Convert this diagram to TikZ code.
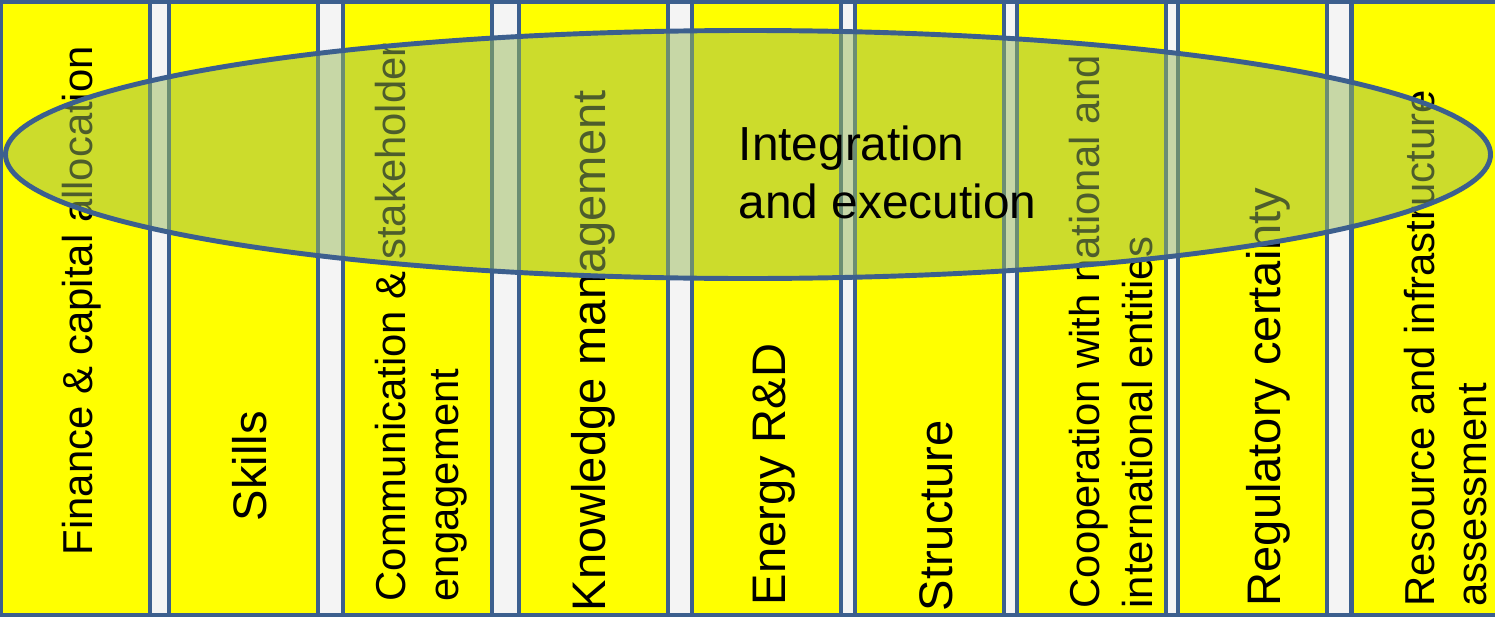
\documentclass[tikz,border=0pt]{standalone}
\usepackage{fontspec}
\setmainfont{Liberation Sans}
\usetikzlibrary{positioning, shapes.geometric}
\definecolor{pillarblue}{HTML}{3C5F8E}
\definecolor{pillaryellow}{RGB}{255,255,0}
\definecolor{olivefill}{HTML}{9BBB59}
\definecolor{gapgray}{HTML}{F4F4F4}

\begin{document}
\begin{tikzpicture}[
  pillar/.style={draw=pillarblue, line width=1.3pt, fill=pillaryellow, minimum width=1.49cm,
                 minimum height=6.13cm, inner sep=0pt, outer sep=0pt},
  lbl/.style={rotate=90, anchor=base west, inner sep=0pt, align=left},
  big/.style={lbl, font=\fontsize{13.4pt}{16pt}\selectfont},
  small/.style={lbl, font=\fontsize{11.9pt}{14.8pt}\selectfont},
  hub/.style={ellipse, draw=pillarblue, line width=1.4pt, fill=olivefill, fill opacity=0.5,
              draw opacity=1, minimum width=14.85cm, minimum height=2.48cm, inner sep=0pt},
  node distance=0.2cm
]
\useasboundingbox (0,0) rectangle (14.95,6.17);
% frame and the light strips between the pillars
\draw[pillarblue, line width=1.3pt, fill=gapgray] (0.02,0.02) rectangle (15.3,6.15);

% the nine pillars
\node[pillar] (c1) at (0.755,3.085) {};
\node[pillar, right=0.19cm of c1] (c2) {};
\node[pillar, right=0.25cm of c2] (c3) {};
\node[pillar, right=0.27cm of c3] (c4) {};
\node[pillar, right=0.24cm of c4] (c5) {};
\node[pillar, right=0.14cm of c5] (c6) {};
\node[pillar, right=0.13cm of c6] (c7) {};
\node[pillar, right=0.12cm of c7] (c8) {};
\node[pillar, right=0.19cm of c8, minimum width=1.60cm, xshift=0.055cm] (c9) {};

% pillar labels, read from the bottom up (base = last line)
\node[small] (t1) at (0.92,0.61) {Finance \& capital allocation};
\node[big] (t2) at (2.66,0.95) {Skills};
\node[small] (t3) at (4.58,0.15) {Communication \& stakeholder\\engagement};
\node[big] (t4) at (6.05,0.05) {Knowledge management};
\node[big] (t5) at (7.85,0.11) {Energy R\&D};
\node[big] (t6) at (9.52,0.05) {Structure};
\node[small] (t7) at (11.52,0.08) {Cooperation with national and\\international entities};
\node[big] (t8) at (12.80,0.10) {Regulatory certainty};
\node[small] (t9) at (14.86,0.10) {Resource and infrastructure\\assessment};

% band laid across all pillars
\node[hub] (hub) at (7.48,4.625) {};
\node[anchor=base west, align=left, inner sep=0pt,
      font=\fontsize{13.6pt}{16.5pt}\selectfont] (core) at (7.38,3.99) {Integration\\and execution};
\end{tikzpicture}
\end{document}
